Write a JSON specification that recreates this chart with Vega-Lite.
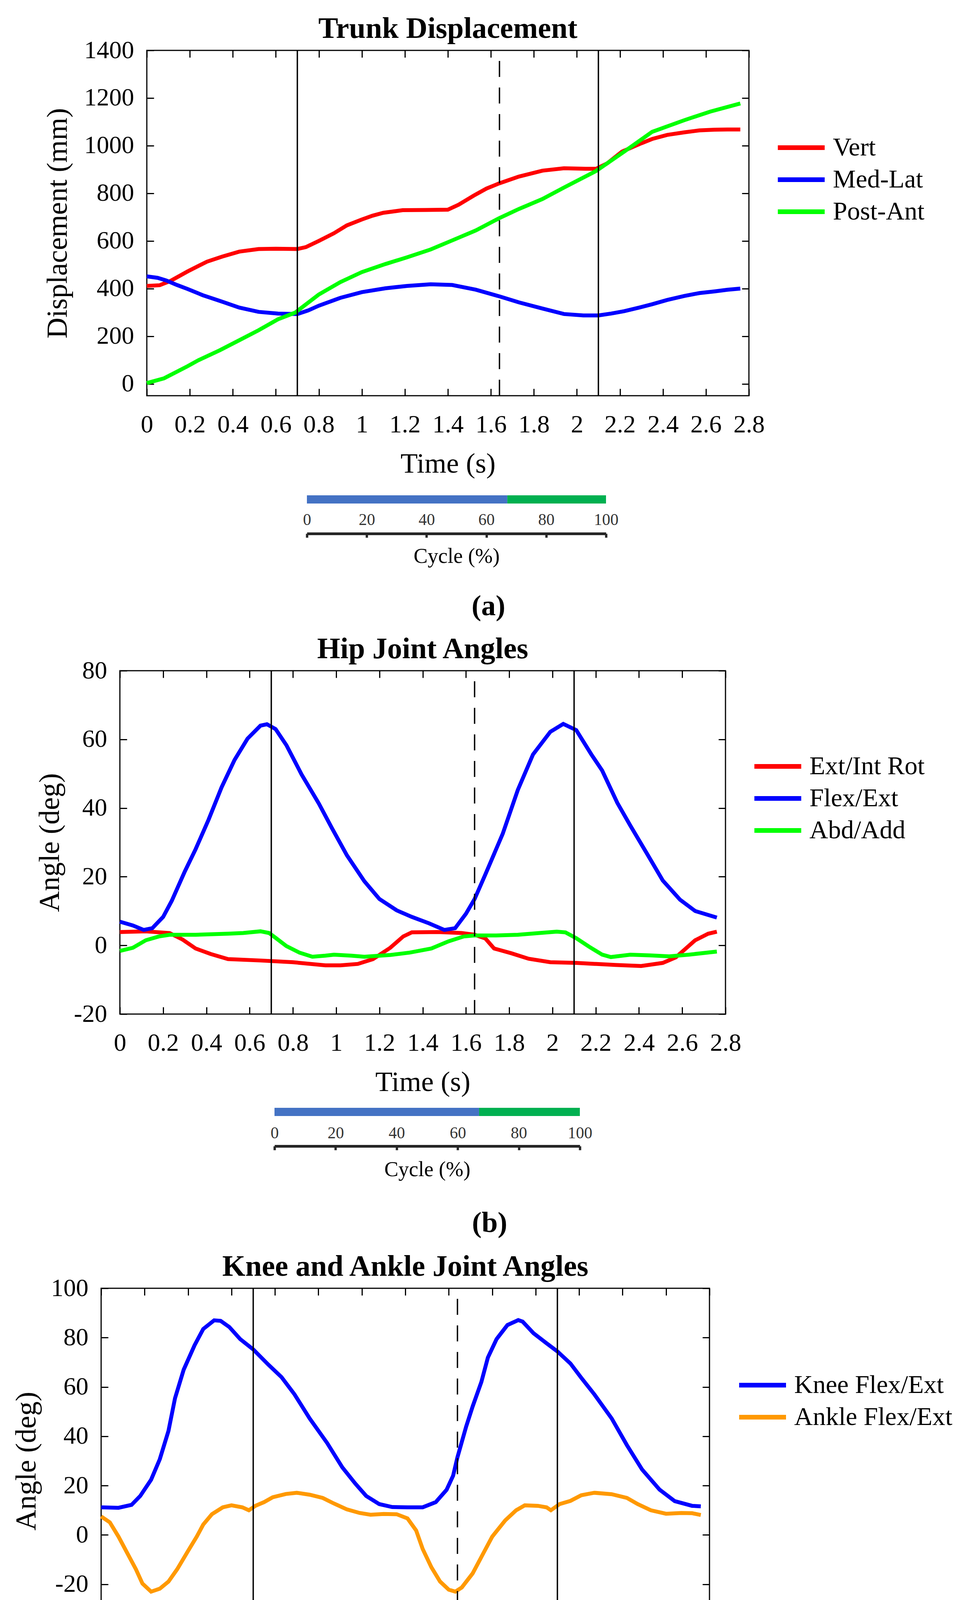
{
  "$schema": "https://vega.github.io/schema/vega-lite/v6.json",
  "background": "white",
  "padding": {"left": 0, "top": 34, "right": 0, "bottom": 0},
  "config": {
    "font": "Liberation Serif",
    "axis": {
      "grid": false, "labelFont": "Liberation Serif", "titleFont": "Liberation Serif",
      "labelColor": "black", "titleColor": "black", "titleFontWeight": "normal",
      "labelFlush": false, "labelOverlap": false, "domain": false,
      "tickColor": "black", "tickWidth": 3, "tickSize": -18
    },
    "legend": {"labelFont": "Liberation Serif"}
  },
  "datasets": {
    "trunk": [
      {"s":"Vert","t":0,"v":411},{"s":"Vert","t":0.06,"v":414},{"s":"Vert","t":0.11,"v":432},{"s":"Vert","t":0.19,"v":472},{"s":"Vert","t":0.28,"v":513},{"s":"Vert","t":0.35,"v":534},{"s":"Vert","t":0.43,"v":555},{"s":"Vert","t":0.52,"v":566},{"s":"Vert","t":0.6,"v":567},{"s":"Vert","t":0.7,"v":566},{"s":"Vert","t":0.74,"v":574},{"s":"Vert","t":0.8,"v":600},{"s":"Vert","t":0.87,"v":632},{"s":"Vert","t":0.93,"v":665},{"s":"Vert","t":1.0,"v":690},{"s":"Vert","t":1.05,"v":706},{"s":"Vert","t":1.1,"v":718},{"s":"Vert","t":1.19,"v":729},{"s":"Vert","t":1.3,"v":730},{"s":"Vert","t":1.4,"v":731},{"s":"Vert","t":1.45,"v":752},{"s":"Vert","t":1.52,"v":790},{"s":"Vert","t":1.58,"v":820},{"s":"Vert","t":1.64,"v":842},{"s":"Vert","t":1.73,"v":870},{"s":"Vert","t":1.84,"v":895},{"s":"Vert","t":1.94,"v":905},{"s":"Vert","t":2.04,"v":903},{"s":"Vert","t":2.09,"v":903},{"s":"Vert","t":2.14,"v":925},{"s":"Vert","t":2.21,"v":975},{"s":"Vert","t":2.3,"v":1010},{"s":"Vert","t":2.35,"v":1028},{"s":"Vert","t":2.42,"v":1045},{"s":"Vert","t":2.5,"v":1056},{"s":"Vert","t":2.57,"v":1064},{"s":"Vert","t":2.64,"v":1067},{"s":"Vert","t":2.7,"v":1068},{"s":"Vert","t":2.76,"v":1068},
      {"s":"Med-Lat","t":0,"v":451},{"s":"Med-Lat","t":0.05,"v":445},{"s":"Med-Lat","t":0.09,"v":434},{"s":"Med-Lat","t":0.14,"v":415},{"s":"Med-Lat","t":0.19,"v":398},{"s":"Med-Lat","t":0.26,"v":372},{"s":"Med-Lat","t":0.35,"v":345},{"s":"Med-Lat","t":0.43,"v":320},{"s":"Med-Lat","t":0.52,"v":302},{"s":"Med-Lat","t":0.61,"v":295},{"s":"Med-Lat","t":0.7,"v":293},{"s":"Med-Lat","t":0.75,"v":308},{"s":"Med-Lat","t":0.8,"v":328},{"s":"Med-Lat","t":0.9,"v":361},{"s":"Med-Lat","t":1.0,"v":385},{"s":"Med-Lat","t":1.11,"v":401},{"s":"Med-Lat","t":1.21,"v":411},{"s":"Med-Lat","t":1.32,"v":418},{"s":"Med-Lat","t":1.42,"v":415},{"s":"Med-Lat","t":1.53,"v":395},{"s":"Med-Lat","t":1.64,"v":367},{"s":"Med-Lat","t":1.73,"v":342},{"s":"Med-Lat","t":1.84,"v":316},{"s":"Med-Lat","t":1.94,"v":293},{"s":"Med-Lat","t":2.03,"v":287},{"s":"Med-Lat","t":2.1,"v":287},{"s":"Med-Lat","t":2.16,"v":295},{"s":"Med-Lat","t":2.22,"v":305},{"s":"Med-Lat","t":2.29,"v":320},{"s":"Med-Lat","t":2.35,"v":334},{"s":"Med-Lat","t":2.42,"v":352},{"s":"Med-Lat","t":2.5,"v":369},{"s":"Med-Lat","t":2.57,"v":381},{"s":"Med-Lat","t":2.64,"v":388},{"s":"Med-Lat","t":2.7,"v":395},{"s":"Med-Lat","t":2.76,"v":400},
      {"s":"Post-Ant","t":0,"v":3},{"s":"Post-Ant","t":0.08,"v":23},{"s":"Post-Ant","t":0.19,"v":74},{"s":"Post-Ant","t":0.24,"v":99},{"s":"Post-Ant","t":0.34,"v":141},{"s":"Post-Ant","t":0.43,"v":183},{"s":"Post-Ant","t":0.52,"v":225},{"s":"Post-Ant","t":0.61,"v":271},{"s":"Post-Ant","t":0.69,"v":299},{"s":"Post-Ant","t":0.8,"v":375},{"s":"Post-Ant","t":0.9,"v":427},{"s":"Post-Ant","t":1.0,"v":469},{"s":"Post-Ant","t":1.11,"v":503},{"s":"Post-Ant","t":1.21,"v":531},{"s":"Post-Ant","t":1.32,"v":564},{"s":"Post-Ant","t":1.42,"v":602},{"s":"Post-Ant","t":1.53,"v":644},{"s":"Post-Ant","t":1.64,"v":696},{"s":"Post-Ant","t":1.73,"v":734},{"s":"Post-Ant","t":1.84,"v":776},{"s":"Post-Ant","t":1.94,"v":824},{"s":"Post-Ant","t":2.09,"v":894},{"s":"Post-Ant","t":2.22,"v":975},{"s":"Post-Ant","t":2.35,"v":1058},{"s":"Post-Ant","t":2.5,"v":1107},{"s":"Post-Ant","t":2.62,"v":1143},{"s":"Post-Ant","t":2.76,"v":1177}
    ],
    "hip": [
      {"s":"Ext/Int Rot","t":0,"v":3.9},{"s":"Ext/Int Rot","t":0.12,"v":4.1},{"s":"Ext/Int Rot","t":0.23,"v":3.6},{"s":"Ext/Int Rot","t":0.29,"v":1.7},{"s":"Ext/Int Rot","t":0.35,"v":-0.9},{"s":"Ext/Int Rot","t":0.42,"v":-2.5},{"s":"Ext/Int Rot","t":0.5,"v":-4},{"s":"Ext/Int Rot","t":0.65,"v":-4.4},{"s":"Ext/Int Rot","t":0.8,"v":-4.9},{"s":"Ext/Int Rot","t":0.95,"v":-5.8},{"s":"Ext/Int Rot","t":1.02,"v":-5.8},{"s":"Ext/Int Rot","t":1.1,"v":-5.4},{"s":"Ext/Int Rot","t":1.17,"v":-4},{"s":"Ext/Int Rot","t":1.25,"v":-0.7},{"s":"Ext/Int Rot","t":1.31,"v":2.6},{"s":"Ext/Int Rot","t":1.35,"v":3.8},{"s":"Ext/Int Rot","t":1.47,"v":3.9},{"s":"Ext/Int Rot","t":1.58,"v":3.6},{"s":"Ext/Int Rot","t":1.64,"v":3.1},{"s":"Ext/Int Rot","t":1.69,"v":2.0},{"s":"Ext/Int Rot","t":1.73,"v":-0.9},{"s":"Ext/Int Rot","t":1.81,"v":-2.3},{"s":"Ext/Int Rot","t":1.89,"v":-3.9},{"s":"Ext/Int Rot","t":1.99,"v":-4.9},{"s":"Ext/Int Rot","t":2.11,"v":-5.1},{"s":"Ext/Int Rot","t":2.29,"v":-5.7},{"s":"Ext/Int Rot","t":2.41,"v":-6},{"s":"Ext/Int Rot","t":2.51,"v":-5.1},{"s":"Ext/Int Rot","t":2.57,"v":-3.5},{"s":"Ext/Int Rot","t":2.66,"v":1.5},{"s":"Ext/Int Rot","t":2.72,"v":3.4},{"s":"Ext/Int Rot","t":2.76,"v":4.0},
      {"s":"Flex/Ext","t":0,"v":6.9},{"s":"Flex/Ext","t":0.06,"v":5.8},{"s":"Flex/Ext","t":0.11,"v":4.5},{"s":"Flex/Ext","t":0.15,"v":5.0},{"s":"Flex/Ext","t":0.2,"v":8.3},{"s":"Flex/Ext","t":0.24,"v":13},{"s":"Flex/Ext","t":0.3,"v":21.5},{"s":"Flex/Ext","t":0.35,"v":28},{"s":"Flex/Ext","t":0.41,"v":36.6},{"s":"Flex/Ext","t":0.47,"v":46},{"s":"Flex/Ext","t":0.53,"v":54},{"s":"Flex/Ext","t":0.59,"v":60.2},{"s":"Flex/Ext","t":0.65,"v":64},{"s":"Flex/Ext","t":0.68,"v":64.4},{"s":"Flex/Ext","t":0.72,"v":63},{"s":"Flex/Ext","t":0.77,"v":58.3},{"s":"Flex/Ext","t":0.84,"v":49.8},{"s":"Flex/Ext","t":0.92,"v":41.3},{"s":"Flex/Ext","t":0.98,"v":34.2},{"s":"Flex/Ext","t":1.05,"v":26.2},{"s":"Flex/Ext","t":1.13,"v":18.7},{"s":"Flex/Ext","t":1.2,"v":13.5},{"s":"Flex/Ext","t":1.28,"v":10.2},{"s":"Flex/Ext","t":1.35,"v":8.3},{"s":"Flex/Ext","t":1.43,"v":6.4},{"s":"Flex/Ext","t":1.5,"v":4.5},{"s":"Flex/Ext","t":1.55,"v":5.0},{"s":"Flex/Ext","t":1.6,"v":9.2},{"s":"Flex/Ext","t":1.64,"v":13.5},{"s":"Flex/Ext","t":1.69,"v":20.7},{"s":"Flex/Ext","t":1.77,"v":32.5},{"s":"Flex/Ext","t":1.84,"v":45.3},{"s":"Flex/Ext","t":1.91,"v":55.6},{"s":"Flex/Ext","t":1.99,"v":62.2},{"s":"Flex/Ext","t":2.05,"v":64.5},{"s":"Flex/Ext","t":2.11,"v":62.7},{"s":"Flex/Ext","t":2.18,"v":55.6},{"s":"Flex/Ext","t":2.23,"v":50.9},{"s":"Flex/Ext","t":2.3,"v":41.5},{"s":"Flex/Ext","t":2.36,"v":34.9},{"s":"Flex/Ext","t":2.44,"v":26.4},{"s":"Flex/Ext","t":2.51,"v":18.9},{"s":"Flex/Ext","t":2.59,"v":13.3},{"s":"Flex/Ext","t":2.66,"v":10},{"s":"Flex/Ext","t":2.76,"v":8.1},
      {"s":"Abd/Add","t":0,"v":-1.6},{"s":"Abd/Add","t":0.06,"v":-0.7},{"s":"Abd/Add","t":0.12,"v":1.5},{"s":"Abd/Add","t":0.18,"v":2.6},{"s":"Abd/Add","t":0.23,"v":3.1},{"s":"Abd/Add","t":0.35,"v":3.1},{"s":"Abd/Add","t":0.5,"v":3.4},{"s":"Abd/Add","t":0.57,"v":3.6},{"s":"Abd/Add","t":0.65,"v":4.1},{"s":"Abd/Add","t":0.69,"v":3.6},{"s":"Abd/Add","t":0.72,"v":2.2},{"s":"Abd/Add","t":0.77,"v":-0.2},{"s":"Abd/Add","t":0.83,"v":-2.1},{"s":"Abd/Add","t":0.89,"v":-3.3},{"s":"Abd/Add","t":0.95,"v":-3.0},{"s":"Abd/Add","t":0.99,"v":-2.7},{"s":"Abd/Add","t":1.07,"v":-3.0},{"s":"Abd/Add","t":1.13,"v":-3.3},{"s":"Abd/Add","t":1.25,"v":-2.8},{"s":"Abd/Add","t":1.34,"v":-2.1},{"s":"Abd/Add","t":1.44,"v":-0.9},{"s":"Abd/Add","t":1.52,"v":1.2},{"s":"Abd/Add","t":1.59,"v":2.6},{"s":"Abd/Add","t":1.64,"v":2.9},{"s":"Abd/Add","t":1.74,"v":2.9},{"s":"Abd/Add","t":1.84,"v":3.1},{"s":"Abd/Add","t":1.94,"v":3.6},{"s":"Abd/Add","t":2.02,"v":4.0},{"s":"Abd/Add","t":2.06,"v":3.8},{"s":"Abd/Add","t":2.11,"v":2.1},{"s":"Abd/Add","t":2.17,"v":-0.4},{"s":"Abd/Add","t":2.23,"v":-2.7},{"s":"Abd/Add","t":2.27,"v":-3.4},{"s":"Abd/Add","t":2.36,"v":-2.7},{"s":"Abd/Add","t":2.45,"v":-2.9},{"s":"Abd/Add","t":2.54,"v":-3.2},{"s":"Abd/Add","t":2.63,"v":-2.7},{"s":"Abd/Add","t":2.76,"v":-1.8}
    ],
    "knee": [
      {"s":"Knee Flex/Ext","t":0,"v":11.2},{"s":"Knee Flex/Ext","t":0.08,"v":11.0},{"s":"Knee Flex/Ext","t":0.14,"v":12.2},{"s":"Knee Flex/Ext","t":0.18,"v":15.8},{"s":"Knee Flex/Ext","t":0.23,"v":22.4},{"s":"Knee Flex/Ext","t":0.27,"v":30.7},{"s":"Knee Flex/Ext","t":0.31,"v":42.2},{"s":"Knee Flex/Ext","t":0.34,"v":55.4},{"s":"Knee Flex/Ext","t":0.38,"v":67},{"s":"Knee Flex/Ext","t":0.43,"v":76.9},{"s":"Knee Flex/Ext","t":0.47,"v":83.5},{"s":"Knee Flex/Ext","t":0.52,"v":87},{"s":"Knee Flex/Ext","t":0.55,"v":86.8},{"s":"Knee Flex/Ext","t":0.59,"v":84.3},{"s":"Knee Flex/Ext","t":0.64,"v":79.4},{"s":"Knee Flex/Ext","t":0.7,"v":75.2},{"s":"Knee Flex/Ext","t":0.77,"v":69},{"s":"Knee Flex/Ext","t":0.83,"v":64},{"s":"Knee Flex/Ext","t":0.89,"v":57},{"s":"Knee Flex/Ext","t":0.96,"v":47.2},{"s":"Knee Flex/Ext","t":1.04,"v":37.3},{"s":"Knee Flex/Ext","t":1.11,"v":27.4},{"s":"Knee Flex/Ext","t":1.17,"v":20.8},{"s":"Knee Flex/Ext","t":1.22,"v":15.8},{"s":"Knee Flex/Ext","t":1.28,"v":12.5},{"s":"Knee Flex/Ext","t":1.34,"v":11.3},{"s":"Knee Flex/Ext","t":1.41,"v":11.2},{"s":"Knee Flex/Ext","t":1.48,"v":11.2},{"s":"Knee Flex/Ext","t":1.54,"v":13.3},{"s":"Knee Flex/Ext","t":1.59,"v":18.3},{"s":"Knee Flex/Ext","t":1.62,"v":24},{"s":"Knee Flex/Ext","t":1.64,"v":31.5},{"s":"Knee Flex/Ext","t":1.68,"v":43.9},{"s":"Knee Flex/Ext","t":1.71,"v":52.1},{"s":"Knee Flex/Ext","t":1.75,"v":62},{"s":"Knee Flex/Ext","t":1.78,"v":71.9},{"s":"Knee Flex/Ext","t":1.82,"v":79.4},{"s":"Knee Flex/Ext","t":1.87,"v":85.1},{"s":"Knee Flex/Ext","t":1.92,"v":87.1},{"s":"Knee Flex/Ext","t":1.94,"v":86.5},{"s":"Knee Flex/Ext","t":1.99,"v":81.8},{"s":"Knee Flex/Ext","t":2.05,"v":77.7},{"s":"Knee Flex/Ext","t":2.1,"v":74.4},{"s":"Knee Flex/Ext","t":2.16,"v":69.5},{"s":"Knee Flex/Ext","t":2.21,"v":63.7},{"s":"Knee Flex/Ext","t":2.27,"v":57},{"s":"Knee Flex/Ext","t":2.35,"v":47.2},{"s":"Knee Flex/Ext","t":2.42,"v":36.4},{"s":"Knee Flex/Ext","t":2.49,"v":26.5},{"s":"Knee Flex/Ext","t":2.57,"v":18.4},{"s":"Knee Flex/Ext","t":2.64,"v":13.7},{"s":"Knee Flex/Ext","t":2.72,"v":11.8},{"s":"Knee Flex/Ext","t":2.76,"v":11.6},
      {"s":"Ankle Flex/Ext","t":0,"v":7.5},{"s":"Ankle Flex/Ext","t":0.04,"v":5.1},{"s":"Ankle Flex/Ext","t":0.08,"v":-0.7},{"s":"Ankle Flex/Ext","t":0.12,"v":-7.3},{"s":"Ankle Flex/Ext","t":0.16,"v":-13.9},{"s":"Ankle Flex/Ext","t":0.19,"v":-19.7},{"s":"Ankle Flex/Ext","t":0.23,"v":-23},{"s":"Ankle Flex/Ext","t":0.27,"v":-21.8},{"s":"Ankle Flex/Ext","t":0.31,"v":-18.9},{"s":"Ankle Flex/Ext","t":0.35,"v":-13.9},{"s":"Ankle Flex/Ext","t":0.4,"v":-6.5},{"s":"Ankle Flex/Ext","t":0.44,"v":-0.7},{"s":"Ankle Flex/Ext","t":0.47,"v":4.2},{"s":"Ankle Flex/Ext","t":0.51,"v":8.4},{"s":"Ankle Flex/Ext","t":0.56,"v":11.2},{"s":"Ankle Flex/Ext","t":0.6,"v":12},{"s":"Ankle Flex/Ext","t":0.65,"v":11.2},{"s":"Ankle Flex/Ext","t":0.68,"v":10},{"s":"Ankle Flex/Ext","t":0.71,"v":11.8},{"s":"Ankle Flex/Ext","t":0.75,"v":13.3},{"s":"Ankle Flex/Ext","t":0.79,"v":15.3},{"s":"Ankle Flex/Ext","t":0.85,"v":16.6},{"s":"Ankle Flex/Ext","t":0.9,"v":17.1},{"s":"Ankle Flex/Ext","t":0.96,"v":16.3},{"s":"Ankle Flex/Ext","t":1.02,"v":15},{"s":"Ankle Flex/Ext","t":1.07,"v":12.8},{"s":"Ankle Flex/Ext","t":1.13,"v":10.4},{"s":"Ankle Flex/Ext","t":1.19,"v":8.9},{"s":"Ankle Flex/Ext","t":1.24,"v":8.2},{"s":"Ankle Flex/Ext","t":1.3,"v":8.5},{"s":"Ankle Flex/Ext","t":1.36,"v":8.4},{"s":"Ankle Flex/Ext","t":1.41,"v":6.7},{"s":"Ankle Flex/Ext","t":1.45,"v":1.8},{"s":"Ankle Flex/Ext","t":1.48,"v":-5.7},{"s":"Ankle Flex/Ext","t":1.52,"v":-13.1},{"s":"Ankle Flex/Ext","t":1.56,"v":-18.9},{"s":"Ankle Flex/Ext","t":1.6,"v":-22.2},{"s":"Ankle Flex/Ext","t":1.63,"v":-23},{"s":"Ankle Flex/Ext","t":1.66,"v":-21.3},{"s":"Ankle Flex/Ext","t":1.71,"v":-15.6},{"s":"Ankle Flex/Ext","t":1.76,"v":-7.3},{"s":"Ankle Flex/Ext","t":1.8,"v":-0.7},{"s":"Ankle Flex/Ext","t":1.86,"v":5.9},{"s":"Ankle Flex/Ext","t":1.91,"v":10},{"s":"Ankle Flex/Ext","t":1.95,"v":12},{"s":"Ankle Flex/Ext","t":2.01,"v":11.8},{"s":"Ankle Flex/Ext","t":2.05,"v":11.2},{"s":"Ankle Flex/Ext","t":2.07,"v":10},{"s":"Ankle Flex/Ext","t":2.11,"v":12.5},{"s":"Ankle Flex/Ext","t":2.16,"v":13.8},{"s":"Ankle Flex/Ext","t":2.21,"v":16.1},{"s":"Ankle Flex/Ext","t":2.27,"v":17.1},{"s":"Ankle Flex/Ext","t":2.35,"v":16.5},{"s":"Ankle Flex/Ext","t":2.42,"v":15},{"s":"Ankle Flex/Ext","t":2.47,"v":12.5},{"s":"Ankle Flex/Ext","t":2.53,"v":10},{"s":"Ankle Flex/Ext","t":2.6,"v":8.6},{"s":"Ankle Flex/Ext","t":2.67,"v":8.9},{"s":"Ankle Flex/Ext","t":2.72,"v":8.8},{"s":"Ankle Flex/Ext","t":2.76,"v":8.1}
    ],
    "events": [
      {"t": 0.7, "kind": "solid"}, {"t": 1.64, "kind": "dashed"}, {"t": 2.1, "kind": "solid"}
    ],
    "phase": [
      {"start": 0, "end": 67, "phase": "stance"}, {"start": 67, "end": 100, "phase": "swing"}
    ]
  },
  "align": "none",
  "spacing": 32,
  "resolve": {"scale": {"color": "independent"}, "legend": {"color": "independent"}},
  "vconcat": [
    {
      "align": "none", "spacing": 0,
      "resolve": {"scale": {"color": "independent"}, "legend": {"color": "independent"}},
      "hconcat": [
        {"width": 109, "height": 1, "view": {"stroke": null}, "data": {"values": []}, "mark": "point"},
        {
          "align": "all", "spacing": 43,
          "resolve": {"scale": {"color": "independent"}, "legend": {"color": "independent"}},
          "vconcat": [
            {
              "width": 1542, "height": 884,
              "view": {"stroke": "black", "strokeWidth": 3},
              "title": {"text": "Trunk Displacement", "frame": "group", "anchor": "middle", "fontSize": 76, "fontWeight": "bold", "font": "Liberation Serif", "baseline": "alphabetic", "offset": -76, "color": "black"},
              "layer": [
                {
                  "data": {"name": "trunk"},
                  "mark": {"type": "line", "strokeWidth": 10},
                  "encoding": {
                    "x": {"field": "t", "type": "quantitative", "scale": {"domain": [0, 2.8], "nice": false, "zero": false},
                      "axis": {"orient": "bottom", "values": [0,0.2,0.4,0.6,0.8,1,1.2,1.4,1.6,1.8,2,2.2,2.4,2.6,2.8], "labelExpr": "'' + datum.value", "labelFontSize": 64, "labelPadding": 111, "labelBaseline": "alphabetic", "title": "Time (s)", "titleFontSize": 72, "titleY": 196, "titleBaseline": "alphabetic"}},
                    "y": {"field": "v", "type": "quantitative", "scale": {"domain": [-50, 1400], "nice": false, "zero": false},
                      "axis": {"orient": "left", "values": [0,200,400,600,800,1000,1200,1400], "labelExpr": "'' + datum.value", "labelFontSize": 64, "labelPadding": 51, "title": "Displacement (mm)", "titleFontSize": 74, "titleX": -206, "titleBaseline": "alphabetic"}},
                    "color": {"field": "s", "type": "nominal", "scale": {"domain": ["Vert", "Med-Lat", "Post-Ant"], "range": ["#ff0000", "#0000ff", "#00ff00"]},
                      "legend": {"orient": "none", "legendX": 1610, "legendY": 208, "title": null, "symbolType": "stroke", "symbolSize": 14400, "symbolStrokeWidth": 12, "labelFontSize": 66, "labelOffset": 15, "rowPadding": 0, "clipHeight": 82, "padding": 0, "labelColor": "black", "labelLimit": 0}}
                  }
                },
                {
                  "data": {"name": "events"},
                  "mark": {"type": "rule", "color": "black", "strokeWidth": 3.5, "strokeDashOffset": 41},
                  "encoding": {
                    "x": {"field": "t", "type": "quantitative", "scale": {"domain": [0, 2.8], "nice": false, "zero": false}, "axis": null},
                    "strokeDash": {"field": "kind", "type": "nominal", "scale": {"domain": ["solid", "dashed"], "range": [[1, 0], [41, 27]]}, "legend": null}
                  }
                },
                {
                  "data": {"name": "trunk"},
                  "mark": {"type": "point", "opacity": 0},
                  "encoding": {
                    "x": {"field": "t", "type": "quantitative", "scale": {"domain": [0, 2.8], "nice": false, "zero": false},
                      "axis": {"orient": "top", "values": [0,0.2,0.4,0.6,0.8,1,1.2,1.4,1.6,1.8,2,2.2,2.4,2.6,2.8], "labels": false, "title": null}},
                    "y": {"field": "v", "type": "quantitative", "scale": {"domain": [-50, 1400], "nice": false, "zero": false},
                      "axis": {"orient": "right", "values": [0,200,400,600,800,1000,1200,1400], "labels": false, "title": null}}
                  }
                }
              ],
              "resolve": {"axis": {"x": "independent", "y": "independent"}}
            },
            {
              "align": "none", "spacing": 0,
              "resolve": {"scale": {"color": "independent"}, "legend": {"color": "independent"}},
              "hconcat": [
                {"width": 399, "height": 21, "view": {"stroke": null}, "data": {"values": []}, "mark": "point"},
                {
                  "width": 766, "height": 21,
                  "view": {"stroke": null},
                  "data": {"name": "phase"},
                  "mark": {"type": "rect"},
                  "title": {"text": "(a)", "orient": "bottom", "frame": "group", "anchor": "middle", "dx": 82, "offset": 66, "fontSize": 74, "fontWeight": "bold", "font": "Liberation Serif", "baseline": "top", "color": "black"},
                  "encoding": {
                    "x": {"field": "start", "type": "quantitative", "scale": {"domain": [0, 100], "nice": false},
                      "axis": {"values": [0,20,40,60,80,100], "offset": 77, "domain": true, "domainColor": "#262626", "domainWidth": 7, "tickColor": "#262626", "tickWidth": 6, "tickSize": 10, "labelFontSize": 42, "labelColor": "#333333", "labelPadding": -33, "labelBaseline": "alphabetic", "title": "Cycle (%)", "titleFontSize": 54, "titleY": 74, "titleBaseline": "alphabetic"}},
                    "x2": {"field": "end"},
                    "color": {"field": "phase", "type": "nominal", "scale": {"domain": ["stance", "swing"], "range": ["#4472c4", "#00b050"]}, "legend": null}
                  }
                }
              ]
            }
          ]
        }
      ]
    },
    {
      "align": "none", "spacing": 34,
      "resolve": {"scale": {"color": "independent"}, "legend": {"color": "independent"}},
      "vconcat": [
        {
          "align": "none", "spacing": 0,
          "resolve": {"scale": {"color": "independent"}, "legend": {"color": "independent"}},
          "hconcat": [
            {"width": 89, "height": 1, "view": {"stroke": null}, "data": {"values": []}, "mark": "point"},
            {
              "align": "all", "spacing": 28,
              "resolve": {"scale": {"color": "independent"}, "legend": {"color": "independent"}},
              "vconcat": [
                {
                  "width": 1551, "height": 879,
                  "view": {"stroke": "black", "strokeWidth": 3},
                  "title": {"text": "Hip Joint Angles", "frame": "group", "anchor": "middle", "fontSize": 76, "fontWeight": "bold", "font": "Liberation Serif", "baseline": "alphabetic", "offset": -76, "color": "black"},
                  "layer": [
                    {
                      "data": {"name": "hip"},
                      "mark": {"type": "line", "strokeWidth": 10},
                      "encoding": {
                        "x": {"field": "t", "type": "quantitative", "scale": {"domain": [0, 2.8], "nice": false, "zero": false},
                          "axis": {"orient": "bottom", "values": [0,0.2,0.4,0.6,0.8,1,1.2,1.4,1.6,1.8,2,2.2,2.4,2.6,2.8], "labelExpr": "'' + datum.value", "labelFontSize": 64, "labelPadding": 111, "labelBaseline": "alphabetic", "title": "Time (s)", "titleFontSize": 72, "titleY": 196, "titleBaseline": "alphabetic"}},
                        "y": {"field": "v", "type": "quantitative", "scale": {"domain": [-20, 80], "nice": false, "zero": false},
                          "axis": {"orient": "left", "values": [-20,0,20,40,60,80], "labelExpr": "'' + datum.value", "labelFontSize": 64, "labelPadding": 51, "title": "Angle (deg)", "titleFontSize": 74, "titleX": -157, "titleBaseline": "alphabetic"}},
                        "color": {"field": "s", "type": "nominal", "scale": {"domain": ["Ext/Int Rot", "Flex/Ext", "Abd/Add"], "range": ["#ff0000", "#0000ff", "#00ff00"]},
                          "legend": {"orient": "none", "legendX": 1619, "legendY": 204, "title": null, "symbolType": "stroke", "symbolSize": 14400, "symbolStrokeWidth": 12, "labelFontSize": 66, "labelOffset": 15, "rowPadding": 0, "clipHeight": 82, "padding": 0, "labelColor": "black", "labelLimit": 0}}
                      }
                    },
                    {
                      "data": {"name": "events"},
                      "mark": {"type": "rule", "color": "black", "strokeWidth": 3.5, "strokeDashOffset": 41},
                      "encoding": {
                        "x": {"field": "t", "type": "quantitative", "scale": {"domain": [0, 2.8], "nice": false, "zero": false}, "axis": null},
                        "strokeDash": {"field": "kind", "type": "nominal", "scale": {"domain": ["solid", "dashed"], "range": [[1, 0], [41, 27]]}, "legend": null}
                      }
                    },
                    {
                      "data": {"name": "hip"},
                      "mark": {"type": "point", "opacity": 0},
                      "encoding": {
                        "x": {"field": "t", "type": "quantitative", "scale": {"domain": [0, 2.8], "nice": false, "zero": false},
                          "axis": {"orient": "top", "values": [0,0.2,0.4,0.6,0.8,1,1.2,1.4,1.6,1.8,2,2.2,2.4,2.6,2.8], "labels": false, "title": null}},
                        "y": {"field": "v", "type": "quantitative", "scale": {"domain": [-20, 80], "nice": false, "zero": false},
                          "axis": {"orient": "right", "values": [-20,0,20,40,60,80], "labels": false, "title": null}}
                      }
                    }
                  ],
                  "resolve": {"axis": {"x": "independent", "y": "independent"}}
                },
                {
                  "align": "none", "spacing": 0,
                  "resolve": {"scale": {"color": "independent"}, "legend": {"color": "independent"}},
                  "hconcat": [
                    {"width": 385, "height": 21, "view": {"stroke": null}, "data": {"values": []}, "mark": "point"},
                    {
                      "width": 782, "height": 21,
                      "view": {"stroke": null},
                      "data": {"name": "phase"},
                      "mark": {"type": "rect"},
                      "title": {"text": "(b)", "orient": "bottom", "frame": "group", "anchor": "middle", "dx": 160, "offset": 75, "fontSize": 74, "fontWeight": "bold", "font": "Liberation Serif", "baseline": "top", "color": "black"},
                      "encoding": {
                        "x": {"field": "start", "type": "quantitative", "scale": {"domain": [0, 100], "nice": false},
                          "axis": {"values": [0,20,40,60,80,100], "offset": 77, "domain": true, "domainColor": "#262626", "domainWidth": 7, "tickColor": "#262626", "tickWidth": 6, "tickSize": 10, "labelFontSize": 42, "labelColor": "#333333", "labelPadding": -31, "labelBaseline": "alphabetic", "title": "Cycle (%)", "titleFontSize": 54, "titleY": 76, "titleBaseline": "alphabetic"}},
                        "x2": {"field": "end"},
                        "color": {"field": "phase", "type": "nominal", "scale": {"domain": ["stance", "swing"], "range": ["#4472c4", "#00b050"]}, "legend": null}
                      }
                    }
                  ]
                }
              ]
            }
          ]
        },
        {
          "align": "none", "spacing": 0,
          "resolve": {"scale": {"color": "independent"}, "legend": {"color": "independent"}},
          "hconcat": [
            {"width": 29, "height": 1, "view": {"stroke": null}, "data": {"values": []}, "mark": "point"},
            {
              "align": "all", "spacing": 30,
              "resolve": {"scale": {"color": "independent"}, "legend": {"color": "independent"}},
              "vconcat": [
                {
                  "width": 1558, "height": 884,
                  "view": {"stroke": "black", "strokeWidth": 3},
                  "title": {"text": "Knee and Ankle Joint Angles", "frame": "group", "anchor": "middle", "fontSize": 76, "fontWeight": "bold", "font": "Liberation Serif", "baseline": "alphabetic", "offset": -76, "color": "black"},
                  "layer": [
                    {
                      "data": {"name": "knee"},
                      "mark": {"type": "line", "strokeWidth": 10},
                      "encoding": {
                        "x": {"field": "t", "type": "quantitative", "scale": {"domain": [0, 2.8], "nice": false, "zero": false},
                          "axis": {"orient": "bottom", "values": [0,0.2,0.4,0.6,0.8,1,1.2,1.4,1.6,1.8,2,2.2,2.4,2.6,2.8], "labelExpr": "'' + datum.value", "labelFontSize": 64, "labelPadding": 111, "labelBaseline": "alphabetic", "title": "Time (s)", "titleFontSize": 72, "titleY": 196, "titleBaseline": "alphabetic"}},
                        "y": {"field": "v", "type": "quantitative", "scale": {"domain": [-40, 100], "nice": false, "zero": false},
                          "axis": {"orient": "left", "values": [-40,-20,0,20,40,60,80,100], "labelExpr": "'' + datum.value", "labelFontSize": 64, "labelPadding": 51, "title": "Angle (deg)", "titleFontSize": 74, "titleX": -169, "titleBaseline": "alphabetic"}},
                        "color": {"field": "s", "type": "nominal", "scale": {"domain": ["Knee Flex/Ext", "Ankle Flex/Ext"], "range": ["#0000ff", "#ff9900"]},
                          "legend": {"orient": "none", "legendX": 1628, "legendY": 207, "title": null, "symbolType": "stroke", "symbolSize": 14400, "symbolStrokeWidth": 12, "labelFontSize": 66, "labelOffset": 15, "rowPadding": 0, "clipHeight": 82, "padding": 0, "labelColor": "black", "labelLimit": 0}}
                      }
                    },
                    {
                      "data": {"name": "events"},
                      "mark": {"type": "rule", "color": "black", "strokeWidth": 3.5, "strokeDashOffset": 41},
                      "encoding": {
                        "x": {"field": "t", "type": "quantitative", "scale": {"domain": [0, 2.8], "nice": false, "zero": false}, "axis": null},
                        "strokeDash": {"field": "kind", "type": "nominal", "scale": {"domain": ["solid", "dashed"], "range": [[1, 0], [41, 27]]}, "legend": null}
                      }
                    },
                    {
                      "data": {"name": "knee"},
                      "mark": {"type": "point", "opacity": 0},
                      "encoding": {
                        "x": {"field": "t", "type": "quantitative", "scale": {"domain": [0, 2.8], "nice": false, "zero": false},
                          "axis": {"orient": "top", "values": [0,0.2,0.4,0.6,0.8,1,1.2,1.4,1.6,1.8,2,2.2,2.4,2.6,2.8], "labels": false, "title": null}},
                        "y": {"field": "v", "type": "quantitative", "scale": {"domain": [-40, 100], "nice": false, "zero": false},
                          "axis": {"orient": "right", "values": [-40,-20,0,20,40,60,80,100], "labels": false, "title": null}}
                      }
                    }
                  ],
                  "resolve": {"axis": {"x": "independent", "y": "independent"}}
                },
                {
                  "align": "none", "spacing": 0,
                  "resolve": {"scale": {"color": "independent"}, "legend": {"color": "independent"}},
                  "hconcat": [
                    {"width": 388, "height": 21, "view": {"stroke": null}, "data": {"values": []}, "mark": "point"},
                    {
                      "width": 781, "height": 21,
                      "view": {"stroke": null},
                      "data": {"name": "phase"},
                      "mark": {"type": "rect"},
                      "title": {"text": "(c)", "orient": "bottom", "frame": "group", "anchor": "middle", "dx": 204, "offset": 78, "fontSize": 74, "fontWeight": "bold", "font": "Liberation Serif", "baseline": "top", "color": "black"},
                      "encoding": {
                        "x": {"field": "start", "type": "quantitative", "scale": {"domain": [0, 100], "nice": false},
                          "axis": {"values": [0,20,40,60,80,100], "offset": 77, "domain": true, "domainColor": "#262626", "domainWidth": 7, "tickColor": "#262626", "tickWidth": 6, "tickSize": 10, "labelFontSize": 42, "labelColor": "#333333", "labelPadding": -29, "labelBaseline": "alphabetic", "title": "Cycle (%)", "titleFontSize": 54, "titleY": 80, "titleBaseline": "alphabetic"}},
                        "x2": {"field": "end"},
                        "color": {"field": "phase", "type": "nominal", "scale": {"domain": ["stance", "swing"], "range": ["#4472c4", "#00b050"]}, "legend": null}
                      }
                    }
                  ]
                }
              ]
            }
          ]
        }
      ]
    }
  ]
}
